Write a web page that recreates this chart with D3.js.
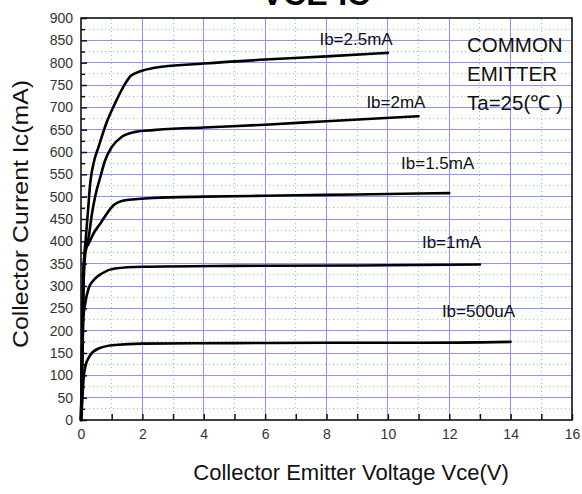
<!DOCTYPE html>
<html>
<head>
<meta charset="utf-8">
<script src="https://cdn.jsdelivr.net/npm/d3@7"></script>
<style>
  body { margin: 0; background: #fff; }
  svg text { font-family: "Liberation Sans", Arial, sans-serif; }
</style>
</head>
<body>
<svg id="chart" width="582" height="494"></svg>
<script>
// Ib curves (Vce in V, Ic in mA)
const vce500uA = [0, 0.04, 0.08, 0.14, 0.3, 0.57, 1.1, 2, 5, 8, 11, 14];
const ic500uA  = [0, 40, 89, 119, 145, 160, 168, 171, 172, 173, 173, 175];

const vce1mA = [0, 0.04, 0.08, 0.14, 0.25, 0.41, 0.68, 1.1, 2, 5, 9, 13];
const ic1mA  = [0, 120, 231, 262, 295, 313, 328, 339, 343, 345, 346, 348];

const vce1p5mA = [0, 0.04, 0.08, 0.14, 0.25, 0.41, 0.63, 0.84, 1.06, 1.44, 2.35, 4, 6, 8, 10, 12];
const ic1p5mA  = [0, 200, 340, 380, 395, 418, 440, 462, 481, 492, 497, 500, 502, 504, 506, 508];

const vce2mA = [0, 0.05, 0.1, 0.17, 0.25, 0.36, 0.46, 0.63, 0.79, 1.0, 1.33, 1.76, 2.35, 4, 6, 8, 11];
const ic2mA  = [0, 200, 340, 385, 410, 463, 500, 544, 582, 611, 634, 645, 649, 655, 661, 669, 680];

const vce2p5mA = [0, 0.05, 0.1, 0.16, 0.23, 0.3, 0.41, 0.57, 0.84, 1.11, 1.44, 1.65, 2.35, 4, 6, 8, 10];
const ic2p5mA  = [0, 200, 350, 410, 470, 530, 575, 611, 667, 709, 753, 772, 788, 798, 807, 814, 822];

const curveNames = ["Ib=500uA", "Ib=1mA", "Ib=1.5mA", "Ib=2mA", "Ib=2.5mA"];
// where each label sits, in chart units (Vce, Ic)
const labelVce = [11.76, 11.11, 10.43, 9.3, 7.77];
const labelIc  = [231, 385, 562, 698, 839];

const xTicks = [0, 2, 4, 6, 8, 10, 12, 14, 16];
const yTicks = d3.range(0, 901, 50);
const noteLines = ["COMMON", "EMITTER", "Ta=25(\u2103 )"];

const W = 582, H = 494;
const margin = { left: 81, right: 10, top: 18, bottom: 74 };

const svg = d3.select("#chart");

const x = d3.scaleLinear().domain([0, 16]).range([margin.left, W - margin.right]);
const y = d3.scaleLinear().domain([0, 900]).range([H - margin.bottom, margin.top]);

// title, mostly cut off at the top
svg.append("text")
    .attr("x", 316)
    .attr("y", 5)
    .attr("text-anchor", "middle")
    .attr("font-size", 32)
    .attr("font-weight", "bold")
    .text("VCE-IC");

// minor grid, green dotted
const grid = svg.append("g").attr("shape-rendering", "crispEdges");
grid.selectAll("line.vminor")
    .data(d3.range(1, 16, 2))
    .join("line")
    .attr("class", "vminor")
    .attr("x1", d => x(d)).attr("x2", d => x(d))
    .attr("y1", y(0)).attr("y2", y(900))
    .attr("stroke", "#7ee07e")
    .attr("stroke-width", 1)
    .attr("stroke-dasharray", "1,3");
grid.selectAll("line.hminor")
    .data(d3.range(25, 900, 50))
    .join("line")
    .attr("class", "hminor")
    .attr("x1", x(0)).attr("x2", x(16))
    .attr("y1", d => y(d)).attr("y2", d => y(d))
    .attr("stroke", "#7ee07e")
    .attr("stroke-width", 1)
    .attr("stroke-dasharray", "1,3");

// major grid, light blue
grid.selectAll("line.vmajor")
    .data(xTicks.slice(1, -1))
    .join("line")
    .attr("class", "vmajor")
    .attr("x1", d => x(d)).attr("x2", d => x(d))
    .attr("y1", y(0)).attr("y2", y(900))
    .attr("stroke", "#9090ff")
    .attr("stroke-width", 1);
grid.selectAll("line.hmajor")
    .data(yTicks.slice(1, -1))
    .join("line")
    .attr("class", "hmajor")
    .attr("x1", x(0)).attr("x2", x(16))
    .attr("y1", d => y(d)).attr("y2", d => y(d))
    .attr("stroke", "#9090ff")
    .attr("stroke-width", 1);

// axes, ticks pointing into the plot
const xAxis = svg.append("g")
    .attr("transform", "translate(0," + y(0) + ")")
    .call(d3.axisBottom(x).tickValues(d3.range(0, 17, 1)).tickSize(-6).tickPadding(9)
        .tickFormat(d => xTicks.includes(d) ? d : ""));
const yAxis = svg.append("g")
    .attr("transform", "translate(" + x(0) + ",0)")
    .call(d3.axisLeft(y).tickValues(d3.range(0, 901, 25)).tickSize(-6).tickPadding(8)
        .tickFormat(d => yTicks.includes(d) ? d : ""));

[xAxis, yAxis].forEach(a => {
    a.select(".domain").remove();
    a.selectAll(".tick line").attr("stroke", "#111").attr("stroke-width", 1.5);
    a.selectAll("text")
        .attr("font-family", "'Liberation Sans', Arial, sans-serif")
        .attr("font-size", 14)
        .attr("fill", "#333");
});
yAxis.selectAll(".tick")
    .filter(d => !yTicks.includes(d))
    .select("line").attr("x2", 4);

// frame
svg.append("rect")
    .attr("x", x(0)).attr("y", y(900))
    .attr("width", x(16) - x(0)).attr("height", y(0) - y(900))
    .attr("fill", "none")
    .attr("stroke", "#111")
    .attr("stroke-width", 1.6);

// curves
const series = [
    [vce500uA, ic500uA],
    [vce1mA, ic1mA],
    [vce1p5mA, ic1p5mA],
    [vce2mA, ic2mA],
    [vce2p5mA, ic2p5mA]
];
const line = d3.line()
    .x(d => x(d[0]))
    .y(d => y(d[1]))
    .curve(d3.curveMonotoneX);

svg.append("g")
    .selectAll("path")
    .data(series)
    .join("path")
    .attr("d", s => line(s[0].map((v, i) => [v, s[1][i]])))
    .attr("fill", "none")
    .attr("stroke", "#000")
    .attr("stroke-width", 2.6)
    .attr("stroke-linejoin", "round")
    .attr("stroke-linecap", "round");

// curve labels
svg.append("g")
    .selectAll("text")
    .data(curveNames)
    .join("text")
    .attr("x", (d, i) => x(labelVce[i]))
    .attr("y", (d, i) => y(labelIc[i]))
    .attr("font-size", 17)
    .attr("fill", "#111")
    .text(d => d);

// conditions note
svg.append("g")
    .selectAll("text")
    .data(noteLines)
    .join("text")
    .attr("x", 467)
    .attr("y", (d, i) => [52, 81, 110][i])
    .attr("font-size", 20.5)
    .attr("fill", "#111")
    .text(d => d);

// axis titles
svg.append("text")
    .attr("x", 351)
    .attr("y", 480)
    .attr("text-anchor", "middle")
    .attr("font-size", 22)
    .attr("fill", "#111")
    .text("Collector Emitter Voltage Vce(V)");

svg.append("text")
    .attr("transform", "translate(28,214) rotate(-90)")
    .attr("text-anchor", "middle")
    .attr("font-size", 22)
    .attr("textLength", 268)
    .attr("lengthAdjust", "spacingAndGlyphs")
    .attr("fill", "#111")
    .text("Collector Current Ic(mA)");
</script>
</body>
</html>
